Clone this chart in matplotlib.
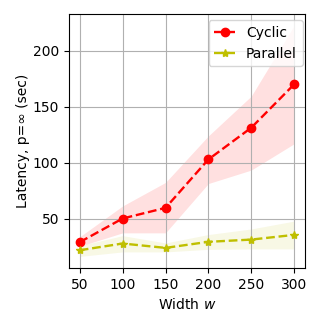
import matplotlib
matplotlib.use("Agg")
import matplotlib.pyplot as plt
import numpy as np

widths = [50, 100, 150, 200, 250, 300]

cyclic_mean = [29.2, 50.3, 59.8, 103, 131.3, 170]
cyclic_lo = [25.5, 37.5, 37.5, 81.5, 93.5, 117]
cyclic_hi = [34, 61.5, 82.5, 124, 159.5, 222.5]

parallel_mean = [22, 28, 24.1, 29.5, 31.5, 35.7]
parallel_lo = [16.5, 20.5, 20.5, 22.8, 23.2, 23.2]
parallel_hi = [26, 35, 28.5, 36, 41, 48]

fig, ax = plt.subplots(figsize=(3.24, 3.24), dpi=100)
fig.subplots_adjust(left=0.213, right=0.941, top=0.957, bottom=0.173)

ax.plot(widths, cyclic_mean, 'r--o', lw=1.7, label='Cyclic')
ax.fill_between(widths, cyclic_lo, cyclic_hi, color='r', alpha=0.12, linewidth=0)
ax.plot(widths, parallel_mean, 'y--*', lw=1.7, label='Parallel')
ax.fill_between(widths, parallel_lo, parallel_hi, color='y', alpha=0.1, linewidth=0)

ax.set_xticks(widths)
ax.set_xlabel('Width $w$')
ax.set_ylabel('Latency, p=∞ (sec)', labelpad=2)
ax.grid(True)
ax.legend(loc='upper right', bbox_to_anchor=(0.99, 0.976), borderaxespad=0,
          handlelength=1.5)

fig.savefig('out.png', dpi=100)
